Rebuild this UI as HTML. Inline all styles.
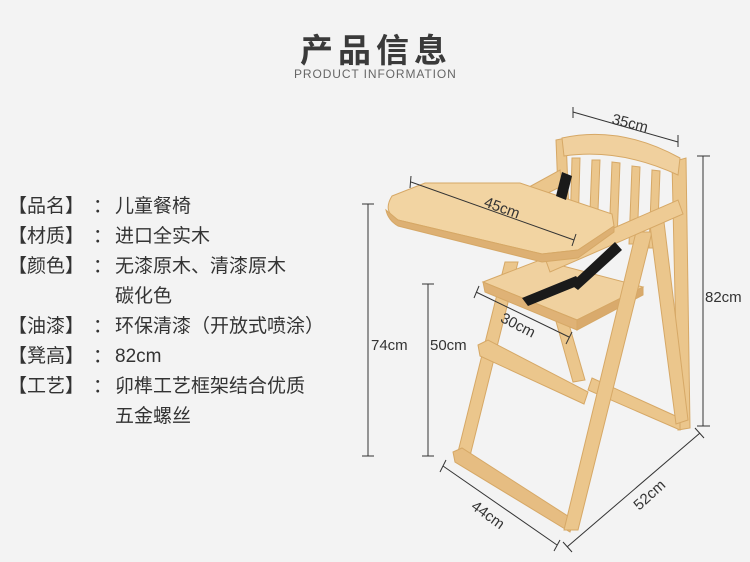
<!DOCTYPE html>
<html><head><meta charset="utf-8"><style>
body{margin:0;width:750px;height:562px;background:#f3f3f3;overflow:hidden;position:relative;font-family:"Liberation Sans","Noto Sans CJK SC",sans-serif;color:#333}
.t{position:absolute;white-space:nowrap}
.row{position:absolute;left:8px;font-size:19px;line-height:22px;color:#333;white-space:nowrap}
.row span{display:inline-block}
.lab{width:82px}
.col{width:25px;text-align:center}
</style></head><body>
<div class="t" style="left:300px;top:24px;font-size:33px;font-weight:bold;letter-spacing:5px;color:#3a3a3a">产品信息</div>
<div class="t" style="left:294px;top:67px;font-size:12px;letter-spacing:0.9px;color:#666">PRODUCT INFORMATION</div>

<div class="row" style="top:196px"><span class="lab">【品名】</span><span class="col">：</span>儿童餐椅</div>
<div class="row" style="top:226px"><span class="lab">【材质】</span><span class="col">：</span>进口全实木</div>
<div class="row" style="top:256px"><span class="lab">【颜色】</span><span class="col">：</span>无漆原木、清漆原木</div>
<div class="row" style="top:286px;left:115px">碳化色</div>
<div class="row" style="top:316px"><span class="lab">【油漆】</span><span class="col">：</span>环保清漆（开放式喷涂）</div>
<div class="row" style="top:346px"><span class="lab">【凳高】</span><span class="col">：</span>82cm</div>
<div class="row" style="top:376px"><span class="lab">【工艺】</span><span class="col">：</span>卯榫工艺框架结合优质</div>
<div class="row" style="top:406px;left:115px">五金螺丝</div>

<svg width="750" height="562" style="position:absolute;left:0;top:0" font-family="Liberation Sans, sans-serif">
<g fill="#ebc68c" stroke="#d6a866" stroke-width="1">
<polygon points="672,162 686,158 690,428 678,430"/>
<polygon points="592,378 680,418 680,430 588,390"/>
<polygon points="556,140 566,138 570,240 560,242"/>
<polygon points="572,158 580,158 578,232 570,232"/>
<polygon points="592,160 600,160 597,236 589,236"/>
<polygon points="612,162 620,163 617,240 609,240"/>
<polygon points="632,166 640,167 637,244 629,244"/>
<polygon points="652,170 660,171 657,248 649,248"/>
<path d="M562,138 Q620,125 680,158 L678,175 Q620,148 564,156 Z" fill="#f0d09e"/>
<polygon points="520,192 560,170 562,186 522,206"/>
<polygon points="505,262 518,262 470,456 457,456"/>
<polygon points="550,300 562,300 585,380 573,382"/>
<polygon points="478,345 488,340 588,392 584,404 480,356"/>
<polygon points="483,282 540,260 643,287 577,320" fill="#f0d19f"/>
<polygon points="483,282 577,320 577,330 485,292" fill="#dfb276"/>
<polygon points="577,320 643,287 643,295 577,330" fill="#d9aa6c"/>
<polygon points="453,452 462,448 574,520 570,532 455,462" fill="#e6bd82"/>
<polygon points="636,232 652,232 578,530 564,530"/>
<polygon points="650,225 664,222 688,420 676,424"/>
<polygon points="545,258 678,200 683,214 550,272" fill="#eecb94"/>
<path d="M392,196 L425,183 L520,183 L612,214 L614,226 L578,250 L542,254 L398,220 Q382,212 392,196 Z" fill="#f2d4a2"/>
<path d="M386,210 Q388,220 398,226 L542,262 L578,258 L614,232 L614,226 L578,250 L542,254 L398,220 Z" fill="#ddb073"/>
</g>
<g fill="#1a1a1a">
<polygon points="562,172 572,176 566,200 556,196"/>
<polygon points="615,242 622,250 578,290 570,284"/>
<polygon points="522,298 576,276 582,284 528,306"/>
</g>
<g stroke="#333" stroke-width="1" fill="none">
<line x1="573" y1="112" x2="678" y2="142"/><line x1="573" y1="107" x2="573" y2="118"/><line x1="678" y1="135" x2="678" y2="147"/>
<line x1="703" y1="156" x2="703" y2="426"/><line x1="697" y1="156" x2="710" y2="156"/><line x1="697" y1="426" x2="710" y2="426"/>
<line x1="368" y1="204" x2="368" y2="456"/><line x1="362" y1="204" x2="374" y2="204"/><line x1="362" y1="456" x2="374" y2="456"/>
<line x1="428" y1="284" x2="428" y2="456"/><line x1="422" y1="284" x2="434" y2="284"/><line x1="422" y1="456" x2="434" y2="456"/>
<line x1="411" y1="182" x2="574" y2="240"/><line x1="411" y1="176" x2="410" y2="188"/><line x1="576" y1="234" x2="572" y2="246"/>
<line x1="476" y1="292" x2="569" y2="337"/><line x1="479" y1="286" x2="474" y2="298"/><line x1="572" y1="332" x2="566" y2="344"/>
<line x1="443" y1="466" x2="557" y2="545"/><line x1="446" y1="460" x2="440" y2="472"/><line x1="560" y1="540" x2="554" y2="551"/>
<line x1="567" y1="547" x2="700" y2="433"/><line x1="563" y1="542" x2="572" y2="552"/><line x1="695" y1="428" x2="704" y2="438"/>
</g>
<g fill="#333" font-size="15">
<text x="612" y="128" transform="rotate(14 630 122)">35cm</text>
<text x="705" y="302">82cm</text>
<text x="371" y="350">74cm</text>
<text x="430" y="350">50cm</text>
<text x="484" y="213" transform="rotate(20 503 207)">45cm</text>
<text x="500" y="331" transform="rotate(27 520 325)">30cm</text>
<text x="470" y="521" transform="rotate(36 490 515)">44cm</text>
<text x="630" y="499" transform="rotate(-42 650 493)">52cm</text>
</g>
</svg>
</body></html>
